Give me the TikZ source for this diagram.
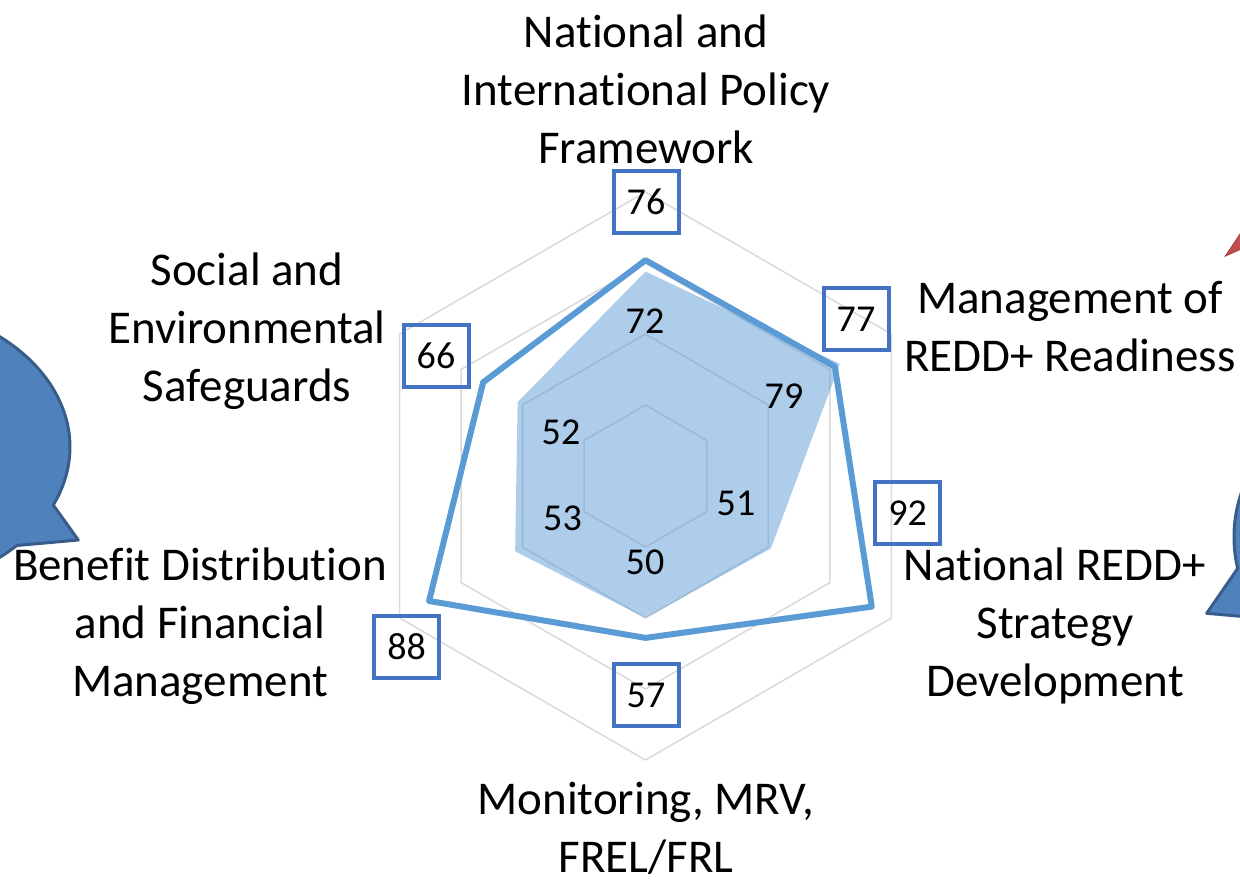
\documentclass[tikz,border=0pt]{standalone}
\usepackage{fontspec}
\setmainfont[Ligatures=NoCommon]{Carlito}
\usetikzlibrary{calc}
\definecolor{gridc}{HTML}{D9D9D9}
\definecolor{seriesc}{HTML}{5B9BD5}
\definecolor{boxc}{HTML}{4472C4}
\definecolor{bubblefill}{HTML}{4F81BD}
\definecolor{bubbleline}{HTML}{385D8A}
\definecolor{redfill}{HTML}{C0504D}
\definecolor{redline}{HTML}{A84441}
\newcommand{\mlines}[1]{\vtop{\halign{\hfil##\hfil\cr #1\crcr}}}
\begin{document}
\begin{tikzpicture}[x=1pt,y=-1pt,
  gridline/.style={draw=gridc, line width=1.5pt, line join=round},
  seriesline/.style={draw=seriesc, line width=6pt, line join=round},
  seriesfill/.style={fill=seriesc, fill opacity=0.5},
  bubble/.style={fill=bubblefill, draw=bubbleline, line width=3pt, line join=round},
  redshape/.style={fill=redfill, draw=redline, line width=1pt},
  scorebox/.style={draw=boxc, line width=4pt, minimum width=65pt, minimum height=62pt, inner sep=0pt, font=\fontsize{38}{44}\selectfont},
  scoreval/.style={anchor=base, inner sep=0pt, font=\fontsize{38}{44}\selectfont},
  axislabel/.style={anchor=base, inner sep=0pt, font=\fontsize{47}{58}\selectfont}]
\useasboundingbox (0,0) rectangle (1240,879);
\clip (0,0) rectangle (1240,879);
\coordinate (c) at (645.5,476);
% speech bubbles at the edges
\filldraw[bubble] (-130,447) ++(42.8:200 and 145) arc[start angle=42.8, end angle=383.6, x radius=200, y radius=145] -- (78.3,540) -- cycle;
\filldraw[bubble] (1434,537) ++(150.6:200 and 165) arc[start angle=150.6, end angle=-191, x radius=200, y radius=165] -- (1206.7,613.3) -- cycle;
\filldraw[redshape] (1225.5,256) -- (1250,219) -- (1250,245) -- cycle;
% grid
\foreach \r in {71,142,213,284}
  \draw[gridline] ([shift={(-90:\r)}]c) -- ([shift={(-30:\r)}]c) -- ([shift={(30:\r)}]c) -- ([shift={(90:\r)}]c) -- ([shift={(150:\r)}]c) -- ([shift={(210:\r)}]c) -- cycle;
% filled series
\fill[seriesfill] ([shift={(-90:204.48)}]c) -- ([shift={(-30:224.36)}]c) -- ([shift={(30:144.84)}]c) -- ([shift={(90:142)}]c) -- ([shift={(150:150.52)}]c) -- ([shift={(210:147.68)}]c) -- cycle;
% outline series
\draw[seriesline] ([shift={(-90:215.84)}]c) -- ([shift={(-30:218.68)}]c) -- ([shift={(30:261.28)}]c) -- ([shift={(90:161.88)}]c) -- ([shift={(150:249.92)}]c) -- ([shift={(210:187.44)}]c) -- cycle;
% inner values
\node[scoreval] (v72) at (645,333) {72};
\node[scoreval] (v79) at (784,408.5) {79};
\node[scoreval] (v51) at (736,515) {51};
\node[scoreval] (v50) at (645,574) {50};
\node[scoreval] (v53) at (562.5,530) {53};
\node[scoreval] (v52) at (561,444) {52};
% boxed values
\node[scorebox] (b76) at (646,201.7) {76};
\node[scorebox] (b77) at (856,319) {77};
\node[scorebox] (b92) at (907.7,513.3) {92};
\node[scorebox] (b57) at (646,695) {57};
\node[scorebox] (b88) at (406.7,646.7) {88};
\node[scorebox] (b66) at (436,355.5) {66};
% axis labels
\node[axislabel] (ltop) at (646,47.5) {\mlines{National and\cr International Policy\cr Framework}};
\node[axislabel] (lrtop) at (1070,313) {\mlines{Management of\cr REDD+ Readiness}};
\node[axislabel] (lrbot) at (1055,580) {\mlines{National REDD+\cr Strategy\cr Development}};
\node[axislabel] (lbot) at (646,814) {\mlines{Monitoring, MRV,\cr FREL/FRL}};
\node[axislabel] (llbot) at (200,580) {\mlines{Benefit Distribution\cr and Financial\cr Management}};
\node[axislabel] (lltop) at (247,285) {\mlines{Social and\cr Environmental\cr Safeguards}};
\end{tikzpicture}
\end{document}
